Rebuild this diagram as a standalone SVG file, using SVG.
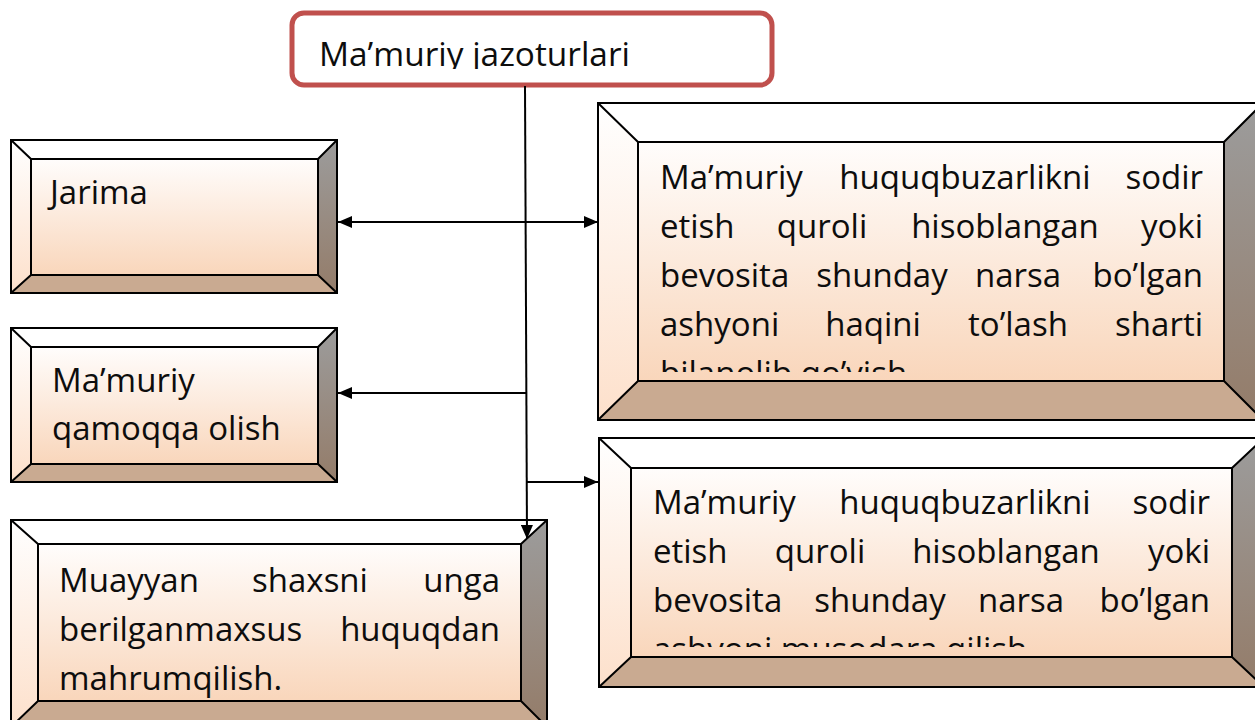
<svg xmlns="http://www.w3.org/2000/svg" width="1255" height="720" viewBox="0 0 1255 720">
<style>
text{font-family:"Open Sans","Noto Sans","Liberation Sans",sans-serif;font-size:33px;fill:#0d0d0d;}
.o{fill:none;stroke:#000;stroke-width:2;stroke-linejoin:miter;}
.tb{fill:#ffffff;}
.lb{fill:url(#gl);}
.rb{fill:url(#gr);}
.bb{fill:#c9aa91;}
.fc{fill:url(#gf);}
.c{fill:none;stroke:#000;stroke-width:2;}
.m{text-anchor:middle;}
.e{text-anchor:end;}
</style>
<defs>
<linearGradient id="gf" x1="0" y1="0" x2="0" y2="1"><stop offset="0" stop-color="#fffdfc"/><stop offset="1" stop-color="#f9d6bb"/></linearGradient>
<linearGradient id="gl" x1="0" y1="0" x2="0" y2="1"><stop offset="0" stop-color="#ffffff"/><stop offset="1" stop-color="#fde0cb"/></linearGradient>
<linearGradient id="gr" x1="0" y1="0" x2="0" y2="1"><stop offset="0" stop-color="#9c9c9c"/><stop offset="1" stop-color="#947c69"/></linearGradient>
<marker id="ar" viewBox="0 0 14 12" refX="14" refY="6" markerWidth="14" markerHeight="12" markerUnits="userSpaceOnUse" orient="auto-start-reverse"><path d="M0,0 L14,6 L0,12 Z" fill="#000"/></marker>
<clipPath id="ct"><rect x="292" y="13" width="480" height="56"/></clipPath>
<clipPath id="ctr"><rect x="638" y="142" width="586" height="230"/></clipPath>
<clipPath id="cbr"><rect x="631" y="468" width="601" height="179"/></clipPath>
<clipPath id="cbl"><rect x="38" y="544" width="483" height="154"/></clipPath>
</defs>
<rect width="1255" height="720" fill="#fff"/>

<g id="title">
<rect x="292" y="13" width="480" height="72" rx="12" ry="12" fill="#fff" stroke="#c0504d" stroke-width="5"/>
<text x="319" y="66" clip-path="url(#ct)" textLength="311" lengthAdjust="spacingAndGlyphs">Ma’muriy jazoturlari</text>
</g>

<g id="jarima">
<polygon class="tb" points="11,140 337,140 318,159 31,159"/>
<polygon class="lb" points="11,140 31,159 31,275 11,293"/>
<polygon class="rb" points="337,140 337,293 318,275 318,159"/>
<polygon class="bb" points="11,293 31,275 318,275 337,293"/>
<rect class="fc" x="31" y="159" width="287" height="116"/>
<path class="o" d="M11,140H337V293H11Z M31,159H318V275H31Z M11,140L31,159 M337,140L318,159 M11,293L31,275 M337,293L318,275"/>
<text x="50" y="204">Jarima</text>
</g>

<g id="qamoqqa">
<polygon class="tb" points="11,328 337,328 318,347 31,347"/>
<polygon class="lb" points="11,328 31,347 31,464 11,482"/>
<polygon class="rb" points="337,328 337,482 318,464 318,347"/>
<polygon class="bb" points="11,482 31,464 318,464 337,482"/>
<rect class="fc" x="31" y="347" width="287" height="117"/>
<path class="o" d="M11,328H337V482H11Z M31,347H318V464H31Z M11,328L31,347 M337,328L318,347 M11,482L31,464 M337,482L318,464"/>
<text x="52" y="392">Ma’muriy</text>
<text x="52" y="440">qamoqqa olish</text>
</g>

<g id="mahrum">
<polygon class="tb" points="11,520 547,520 521,544 38,544"/>
<polygon class="lb" points="11,520 38,544 38,701 11,727"/>
<polygon class="rb" points="547,520 547,727 521,701 521,544"/>
<polygon class="bb" points="11,727 38,701 521,701 547,727"/>
<rect class="fc" x="38" y="544" width="483" height="157"/>
<path class="o" d="M11,520H547V727H11Z M38,544H521V701H38Z M11,520L38,544 M547,520L521,544 M11,727L38,701 M547,727L521,701"/>
<g clip-path="url(#cbl)">
<text x="59" y="592">Muayyan</text><text class="m" x="310" y="592">shaxsni</text><text class="e" x="500" y="592">unga</text>
<text x="59" y="641">berilganmaxsus</text><text class="e" x="500" y="641">huquqdan</text>
<text x="59" y="690">mahrumqilish.</text>
</g>
</g>

<g id="haqini">
<polygon class="tb" points="598,103 1263,103 1224,142 638,142"/>
<polygon class="lb" points="598,103 638,142 638,381 598,420"/>
<polygon class="rb" points="1263,103 1263,420 1224,381 1224,142"/>
<polygon class="bb" points="598,420 638,381 1224,381 1263,420"/>
<rect class="fc" x="638" y="142" width="586" height="239"/>
<path class="o" d="M598,103H1263V420H598Z M638,142H1224V381H638Z M598,103L638,142 M1263,103L1224,142 M598,420L638,381 M1263,420L1224,381"/>
<g clip-path="url(#ctr)">
<text x="660" y="189">Ma’muriy</text><text class="m" x="965" y="189">huquqbuzarlikni</text><text class="e" x="1203" y="189">sodir</text>
<text x="660" y="238">etish</text><text class="m" x="822" y="238">quroli</text><text class="m" x="1005" y="238">hisoblangan</text><text class="e" x="1203" y="238">yoki</text>
<text x="660" y="287">bevosita</text><text class="m" x="882" y="287">shunday</text><text class="m" x="1018" y="287">narsa</text><text class="e" x="1203" y="287">bo’lgan</text>
<text x="660" y="336">ashyoni</text><text class="m" x="873" y="336">haqini</text><text class="m" x="1018" y="336">to’lash</text><text class="e" x="1203" y="336">sharti</text>
<text x="660" y="385">bilanolib qo’yish</text>
</g>
</g>

<g id="musodara">
<polygon class="tb" points="599,438 1264,438 1232,468 631,468"/>
<polygon class="lb" points="599,438 631,468 631,657 599,687"/>
<polygon class="rb" points="1264,438 1264,687 1232,657 1232,468"/>
<polygon class="bb" points="599,687 631,657 1232,657 1264,687"/>
<rect class="fc" x="631" y="468" width="601" height="189"/>
<path class="o" d="M599,438H1264V687H599Z M631,468H1232V657H631Z M599,438L631,468 M1264,438L1232,468 M599,687L631,657 M1264,687L1232,657"/>
<g clip-path="url(#cbr)">
<text x="653" y="514">Ma’muriy</text><text class="m" x="965" y="514">huquqbuzarlikni</text><text class="e" x="1210" y="514">sodir</text>
<text x="653" y="563">etish</text><text class="m" x="820" y="563">quroli</text><text class="m" x="1006" y="563">hisoblangan</text><text class="e" x="1210" y="563">yoki</text>
<text x="653" y="612">bevosita</text><text class="m" x="880" y="612">shunday</text><text class="m" x="1021" y="612">narsa</text><text class="e" x="1210" y="612">bo’lgan</text>
<text x="653" y="661">ashyoni musodara qilish</text>
</g>
</g>

<g id="connectors">
<line class="c" x1="525" y1="86" x2="527" y2="539" marker-end="url(#ar)"/>
<line class="c" x1="338" y1="222" x2="598" y2="222" marker-start="url(#ar)" marker-end="url(#ar)"/>
<line class="c" x1="527" y1="393" x2="338" y2="393" marker-end="url(#ar)"/>
<line class="c" x1="527" y1="482" x2="598" y2="482" marker-end="url(#ar)"/>
</g>
</svg>
